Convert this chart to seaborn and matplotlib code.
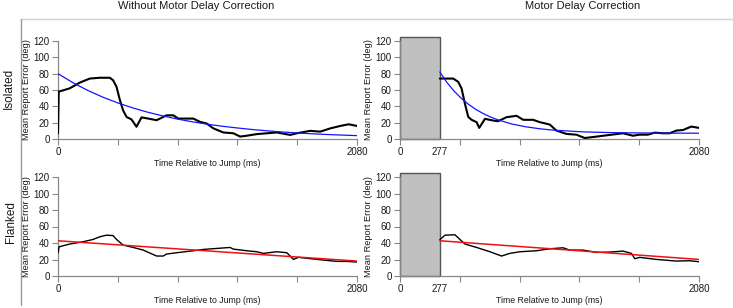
import matplotlib
matplotlib.use("Agg")
import matplotlib.pyplot as plt
import seaborn as sns
from matplotlib.patches import Rectangle
from matplotlib.lines import Line2D

# ---- data ----
motor_delay = 277
x_ticks = [0, 416, 832, 1248, 1664, 2080]

# Isolated, without correction
iso_t = [0, 5, 81, 151, 221, 290, 360, 383, 407, 430, 453, 477, 511, 546, 581, 628,
         686, 755, 802, 837, 895, 941, 988, 1034, 1081, 1150, 1220, 1267, 1313, 1383,
         1453, 1522, 1615, 1662, 1755, 1824, 1894, 1964, 2022, 2080]
iso_err = [7, 58, 62, 69, 74, 75, 75, 72, 64, 48, 35, 27, 24, 15, 26.5, 25,
           23, 29, 29, 25, 25, 25, 21, 19, 13, 8, 7, 3, 4, 6,
           7, 8, 5, 7, 10, 9, 13, 16, 18, 16]
iso_fit_t = [0, 104, 208, 312, 416, 520, 624, 728, 832, 936, 1040, 1144, 1248, 1352,
             1456, 1560, 1664, 1768, 1872, 1976, 2080]
iso_fit = [80.0, 68.9, 59.4, 51.2, 44.2, 38.1, 32.8, 28.3, 24.4, 21.0, 18.1, 15.6, 13.5,
           11.6, 10.0, 8.6, 7.4, 6.4, 5.5, 4.8, 4.1]

# Isolated, motor delay correction
iso_mc_t = [277, 370, 405, 428, 452, 475, 498, 533, 551, 591, 648, 683, 741, 811, 857,
            926, 973, 1042, 1088, 1158, 1227, 1285, 1366, 1459, 1552, 1621, 1667, 1725,
            1772, 1830, 1876, 1922, 1969, 2026, 2080]
iso_mc_err = [74, 74, 70, 62, 43, 27, 23.5, 20.6, 13.6, 24.7, 22.6, 21.8, 26.7, 28.4, 23.5,
              23.5, 20.6, 17.7, 10.3, 6.2, 5.3, 1.2, 2.9, 5, 7, 4, 5.3, 5.3,
              7.8, 7, 7, 10.3, 11, 15.2, 13.6]
iso_mc_fit_t = [277, 327, 377, 427, 477, 527, 577, 627, 677, 777, 877, 977, 1077, 1277,
                1477, 1677, 1877, 2080]
iso_mc_fit = [82.0, 69.1, 58.5, 49.7, 42.4, 36.3, 31.3, 27.1, 23.7, 18.4, 14.9, 12.4, 10.7,
              8.7, 7.8, 7.4, 7.2, 7.1]

# Flanked, without correction
fl_t = [0, 8, 81, 174, 244, 290, 337, 383, 407, 453, 523, 593, 686, 732, 755, 825, 941,
        1011, 1104, 1197, 1220, 1313, 1383, 1429, 1522, 1592, 1638, 1673, 1755, 1848,
        1941, 2010, 2080]
fl_err = [28, 35.4, 38.7, 41.5, 44.3, 47.5, 49.5, 49, 44.3, 37.5, 34.6, 31.4, 24.2, 24.2,
          26.6, 28.2, 30.6, 32.2, 33.4, 34.6, 32.6, 30.6, 29.4, 27.4, 29.4, 28.2, 20.1,
          22.6, 21, 19.3, 17.7, 17.7, 16.9]
fl_fit_t = [0, 2080]
fl_fit = [42.7, 18.1]

# Flanked, motor delay correction
fl_mc_t = [277, 313, 382, 417, 452, 533, 626, 706, 764, 834, 950, 1042, 1135, 1181, 1274,
           1366, 1459, 1552, 1610, 1633, 1668, 1784, 1922, 2015, 2080]
fl_mc_err = [44, 49.5, 50, 44.3, 38.7, 34.6, 29.4, 24.2, 27.4, 29.4, 30.6, 33, 34.2, 31.4,
             31.4, 28.6, 29, 30.2, 27.4, 21, 22.6, 20.1, 18.1, 18.5, 17.3]
fl_mc_fit_t = [277, 2080]
fl_mc_fit = [42.7, 20.1]

col_titles = ["Without Motor Delay Correction", "Motor Delay Correction"]
row_titles = ["Isolated", "Flanked"]

# ---- styling ----
sns.set_theme(style="white")
plt.rcParams["font.family"] = ["Liberation Sans", "DejaVu Sans"]

fig = plt.figure(figsize=(7.33, 3.08), dpi=100)
W, H = 733, 308

def add_ax(x0, x1, ytop, ybot):
    return fig.add_axes([x0 / W, (H - ybot) / H, (x1 - x0) / W, (ybot - ytop) / H])

axes = [[add_ax(58, 357, 41, 139), add_ax(400, 699, 41, 139)],
        [add_ax(58, 357, 177, 276), add_ax(400, 699, 177, 276)]]

panels = [
    [(iso_t, iso_err, iso_fit_t, iso_fit, "#1414ff", 1.5),
     (iso_mc_t, iso_mc_err, iso_mc_fit_t, iso_mc_fit, "#1414ff", 1.5)],
    [(fl_t, fl_err, fl_fit_t, fl_fit, "#ee1111", 1.0),
     (fl_mc_t, fl_mc_err, fl_mc_fit_t, fl_mc_fit, "#ee1111", 1.0)],
]
txt = "#1a1a1a"

for r in range(2):
    for c in range(2):
        ax = axes[r][c]
        t, e, ft, f, fcol, lw = panels[r][c]
        if c == 1:
            ax.add_patch(Rectangle((0, 0), motor_delay, 125, facecolor="#c0c0c0",
                                   edgecolor="#555555", linewidth=1, clip_on=False, zorder=1))
        sns.lineplot(x=t, y=e, ax=ax, color="black", linewidth=lw, zorder=3)
        sns.lineplot(x=ft, y=f, ax=ax, color=fcol, linewidth=0.9 if r == 0 else 1.1, zorder=4)
        ax.set_xlim(0, 2080)
        ax.set_ylim(0, 120)
        ax.set_yticks(range(0, 121, 20))
        ax.set_xticks(x_ticks)
        if c == 0:
            ax.set_xticklabels(["0", "", "", "", "", "2080"])
        else:
            ax.xaxis.remove_overlapping_locs = False
            ax.set_xticklabels(["", "", "", "", "", "2080"])
            ax.set_xticks([0, motor_delay], minor=True)
            ax.set_xticklabels(["0", "277"], minor=True)
            ax.tick_params(axis="x", which="minor", bottom=True, length=0, labelsize=7,
                           pad=6, labelcolor=txt)
        for s in ["top", "right"]:
            ax.spines[s].set_visible(False)
        for s in ["left", "bottom"]:
            ax.spines[s].set_color("#888888")
            ax.spines[s].set_linewidth(0.9)
        ax.tick_params(axis="both", which="major", direction="out", length=4, width=0.8,
                       bottom=True, left=True, color="#888888", labelsize=7,
                       labelcolor=txt, pad=2)
        ax.set_xlabel("Time Relative to Jump (ms)", fontsize=6.3, labelpad=1, color=txt)
        ax.set_ylabel("Mean Report Error (deg)", fontsize=6.7, labelpad=2, color=txt)
        ax.set_facecolor("none")

fig.text(196 / W, 1 - 6 / H, col_titles[0], ha="center", va="center", fontsize=8, color=txt)
fig.text(583 / W, 1 - 6 / H, col_titles[1], ha="center", va="center", fontsize=8, color=txt)
fig.text(9 / W, 1 - 88 / H, row_titles[0], ha="center", va="center", rotation=90, fontsize=8.5,
         color=txt)
fig.text(11 / W, 1 - 222 / H, row_titles[1], ha="center", va="center", rotation=90, fontsize=8.5,
         color=txt)

# frame lines
fig.add_artist(Line2D([21 / W, 1], [1 - 19 / H, 1 - 19 / H], color="#d4d4d4", linewidth=1))
fig.add_artist(Line2D([21 / W, 21 / W], [1 - 19 / H, 1 - 305 / H], color="#999999", linewidth=1))

fig.savefig("out.png", dpi=100)
